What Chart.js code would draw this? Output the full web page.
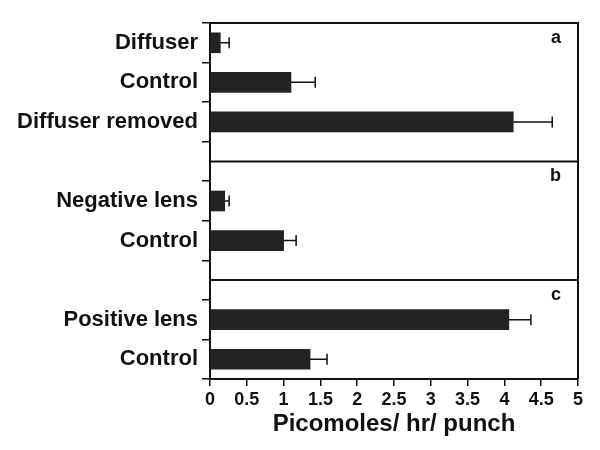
<!DOCTYPE html>
<html lang="en">
<head>
<meta charset="UTF-8">
<title>Picomoles/ hr/ punch</title>
<script src="https://cdn.jsdelivr.net/npm/chart.js"></script>
<style>
  body { margin: 0; background: #fff; }
  .wrap { width: 600px; height: 450px; }
</style>
</head>
<body>
<div class="wrap"><canvas id="chart"></canvas></div>
<script>
// rows top to bottom; the empty rows hold the panel dividers
const categories = ['Diffuser', 'Control', 'Diffuser removed', '', 'Negative lens', 'Control', '', 'Positive lens', 'Control'];
const values = [0.14, 1.1, 4.12, null, 0.2, 1.0, null, 4.06, 1.36];
const errors = [0.12, 0.33, 0.53, null, 0.06, 0.17, null, 0.3, 0.23];
const dividerRows = [3, 6];
const panelLetters = ['a', 'b', 'c'];
const xMin = 0, xMax = 5, xStep = 0.5;

const FONT = "'Liberation Sans', Arial, sans-serif";
const INK = '#111';

const panelPlugin = {
  id: 'panels',
  afterDatasetsDraw(chart) {
    const { ctx, chartArea: a, scales: { x, y } } = chart;
    ctx.save();
    ctx.strokeStyle = INK;

    // error bars (upper side only)
    ctx.lineWidth = 1.5;
    values.forEach((v, i) => {
      if (v == null) return;
      const yy = y.getPixelForValue(i);
      const x0 = x.getPixelForValue(v);
      const x1 = x.getPixelForValue(v + errors[i]);
      ctx.beginPath();
      ctx.moveTo(x0, yy);
      ctx.lineTo(x1, yy);
      ctx.moveTo(x1, yy - 5.5);
      ctx.lineTo(x1, yy + 5.5);
      ctx.stroke();
    });

    // frame top + right
    ctx.lineWidth = 2;
    ctx.beginPath();
    ctx.moveTo(a.left, a.top);
    ctx.lineTo(a.right, a.top);
    ctx.lineTo(a.right, a.bottom);
    ctx.stroke();

    // panel dividers
    const tops = [a.top];
    dividerRows.forEach(r => {
      const yy = y.getPixelForValue(r);
      tops.push(yy);
      ctx.beginPath();
      ctx.moveTo(a.left, yy);
      ctx.lineTo(a.right, yy);
      ctx.stroke();
    });

    // panel letters
    ctx.fillStyle = INK;
    ctx.font = 'bold 18px ' + FONT;
    ctx.textAlign = 'right';
    ctx.textBaseline = 'alphabetic';
    panelLetters.forEach((l, i) => ctx.fillText(l, a.right - 17, tops[i] + 20));
    ctx.restore();
  }
};

new Chart(document.getElementById('chart'), {
  type: 'bar',
  data: {
    labels: categories,
    datasets: [{
      data: values,
      backgroundColor: '#232323',
      borderWidth: 0,
      barThickness: 20
    }]
  },
  options: {
    indexAxis: 'y',
    responsive: true,
    maintainAspectRatio: false,
    animation: false,
    layout: { padding: { top: 23, right: 22, left: 0, bottom: 0 } },
    plugins: {
      legend: { display: false },
      tooltip: { enabled: false }
    },
    scales: {
      y: {
        type: 'category',
        offset: true,
        afterFit(scale) { scale.width = 210; },
        grid: { offset: true, drawOnChartArea: false, tickLength: 8, color: INK, lineWidth: 1.5 },
        border: { color: INK, width: 2 },
        ticks: {
          autoSkip: false,
          color: INK,
          padding: 4,
          font: { family: FONT, size: 22, weight: 'bold' }
        }
      },
      x: {
        min: xMin,
        max: xMax,
        afterFit(scale) { scale.height = 71; },
        grid: { drawOnChartArea: false, tickLength: 7, color: INK, lineWidth: 1.5 },
        border: { color: INK, width: 2 },
        ticks: {
          stepSize: xStep,
          color: INK,
          padding: 3,
          maxRotation: 0,
          autoSkip: false,
          callback: v => String(v),
          font: { family: FONT, size: 18, weight: 'bold' }
        },
        title: {
          display: true,
          text: 'Picomoles/ hr/ punch',
          color: INK,
          padding: { top: 0, bottom: 11 },
          font: { family: FONT, size: 24, weight: 'bold' }
        }
      }
    }
  },
  plugins: [panelPlugin]
});
</script>
</body>
</html>
